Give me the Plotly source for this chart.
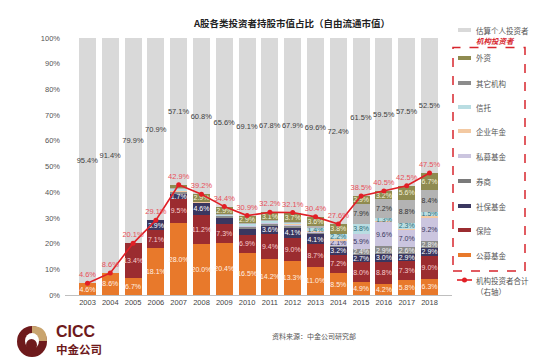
import plotly.graph_objects as go

years = ["2003", "2004", "2005", "2006", "2007", "2008", "2009", "2010",
         "2011", "2012", "2013", "2014", "2015", "2016", "2017", "2018"]

gongmu = [4.6, 8.6, 6.7, 18.1, 28.0, 20.0, 20.4, 16.5, 14.2, 13.3, 11.0, 8.5, 4.9, 4.2, 5.8, 6.3]
baoxian = [0, 0, 13.4, 7.1, 9.5, 11.2, 7.3, 6.9, 9.4, 9.0, 8.7, 7.2, 8.0, 8.8, 7.3, 9.0]
shebao = [0, 0, 0, 3.9, 1.7, 4.6, 2.5, 2.6, 3.6, 4.1, 4.1, 3.2, 2.7, 3.0, 2.9, 2.9]
quanshang = [0, 0, 0, 0, 1.0, 0.3, 0.6, 0.7, 0.6, 0.6, 0.5, 0.3, 2.4, 2.9, 2.6, 2.8]
simu = [0, 0, 0, 0, 0.2, 0.0, 0.1, 0.2, 0.3, 0.3, 0.3, 2.1, 5.9, 9.6, 7.0, 9.2]
nianjin = [0, 0, 0, 0, 0.3, 0.1, 0.2, 0.3, 0.3, 0.4, 0.3, 0.3, 0.0, 0.3, 0.2, 0.7]
xintuo = [0, 0, 0, 0, 0.6, 0.1, 0.2, 0.5, 0.4, 0.4, 1.4, 2.2, 3.8, 1.3, 2.3, 1.5]
qita = [0, 0, 0, 0, 0.4, 0.0, 0.2, 0.3, 0.3, 0.3, 0.5, 0.0, 7.9, 7.2, 8.8, 8.4]
waizi = [0, 0, 0, 0, 1.2, 2.9, 2.9, 2.9, 3.1, 3.7, 3.6, 3.8, 2.9, 3.2, 5.6, 6.7]

inst_names = ["公募基金", "保险", "社保基金", "券商", "私募基金", "企业年金", "信托", "其它机构", "外资"]
inst_values = [gongmu, baoxian, shebao, quanshang, simu, nianjin, xintuo, qita, waizi]
inst_colors = ["#E8792B", "#9B2C30", "#3A3760", "#8C8C8C", "#CBC5DF", "#F3C9A2", "#B9DDE2", "#B3B3B3", "#8F8B50"]
inst_text_colors = ["#FFF1E6", "#F7CFCF", "#FFFFFF", "#F2F2F2", "#3A3760", "#5A4030", "#2F6F7A", "#333333", "#F3F2DC"]
hidden_labels = {("社保基金", "2009"), ("社保基金", "2010")}

individual_name = "估算个人投资者"
total_name = "机构投资者合计"
total = [round(sum(v[i] for v in inst_values), 1) for i in range(len(years))]
individual = [round(100 - t, 1) for t in total]

NUM_FONT = "Liberation Sans, Arial, sans-serif"
CJK_FONT = "Noto Sans CJK SC, sans-serif"

fig = go.Figure()

for name, vals, col, tcol in zip(inst_names, inst_values, inst_colors, inst_text_colors):
    txt = ["" if (v < 1.3 or (name, y) in hidden_labels) else f"{v:.1f}%" for v, y in zip(vals, years)]
    fig.add_trace(go.Bar(
        x=years, y=vals, name=name, marker=dict(color=col, line=dict(width=0)),
        text=txt, textposition="inside", insidetextanchor="middle", textangle=0,
        constraintext="none", textfont=dict(family=NUM_FONT, size=7, color=tcol),
        showlegend=False, hoverinfo="skip"))

fig.add_trace(go.Bar(
    x=years, y=individual, name=individual_name, marker=dict(color="#D9D9D9", line=dict(width=0)),
    text=[f"{v:.1f}%" for v in individual], textposition="inside", insidetextanchor="middle",
    textangle=0, constraintext="none", textfont=dict(family=NUM_FONT, size=7.5, color="#404040"),
    showlegend=False, hoverinfo="skip"))

fig.add_trace(go.Scatter(
    x=years, y=total, name=total_name, mode="lines+markers+text",
    line=dict(color="#E11F26", width=1.6), marker=dict(color="#E11F26", size=5),
    text=[f"{v:.1f}%" for v in total], textposition="top center",
    textfont=dict(family=NUM_FONT, size=7.5, color="#E8505B"),
    cliponaxis=False, showlegend=False, hoverinfo="skip"))

L, R, T, B = 57, 444, 30, 287
W, H = R - L, B - T


def px(x):
    return (x - L) / W


def py(y):
    return (B - y) / H


shapes = []
annotations = []

# legend
legend_items = [(individual_name, "#D9D9D9", 22)] + [
    (n, c, yy) for n, c, yy in zip(
        ["外资", "其它机构", "信托", "企业年金", "私募基金", "券商", "社保基金", "保险", "公募基金"],
        ["#8F8B50", "#8C8C8C", "#B9DDE2", "#F3C9A2", "#CBC5DF", "#7A7A7A", "#3A3760", "#9B2C30", "#E8792B"],
        [50, 75, 99, 123, 148, 173, 198, 222, 247])]
for name, col, yy in legend_items:
    shapes.append(dict(type="rect", xref="paper", yref="paper",
                       x0=px(450), x1=px(463), y0=py(yy + 2), y1=py(yy - 2),
                       fillcolor=col, line=dict(width=0)))
    annotations.append(dict(xref="paper", yref="paper", x=px(466), y=py(yy), text=name,
                            showarrow=False, xanchor="left", yanchor="middle",
                            font=dict(family=CJK_FONT, size=7.5, color="#555555")))

annotations.append(dict(xref="paper", yref="paper", x=px(466), y=py(32.5), text="<b><i>机构投资者</i></b>",
                        showarrow=False, xanchor="left", yanchor="middle",
                        font=dict(family=CJK_FONT, size=7.5, color="#D7262E")))
shapes.append(dict(type="rect", xref="paper", yref="paper", x0=px(445), x1=px(517),
                   y0=py(263), y1=py(39.5), line=dict(color="#D7262E", width=1.5, dash="dash")))
shapes.append(dict(type="line", xref="paper", yref="paper", x0=px(449), x1=px(464),
                   y0=py(272), y1=py(272), line=dict(color="#E11F26", width=1.6)))
shapes.append(dict(type="circle", xref="paper", yref="paper", x0=px(454), x1=px(459),
                   y0=py(274.5), y1=py(269.5), fillcolor="#E11F26", line=dict(width=0)))
annotations.append(dict(xref="paper", yref="paper", x=px(466), y=py(272), text=total_name,
                        showarrow=False, xanchor="left", yanchor="middle",
                        font=dict(family=CJK_FONT, size=7.5, color="#555555")))
annotations.append(dict(xref="paper", yref="paper", x=px(466), y=py(283), text="（右轴）",
                        showarrow=False, xanchor="left", yanchor="middle",
                        font=dict(family=CJK_FONT, size=7.5, color="#555555")))

# title
annotations.append(dict(xref="paper", yref="paper", x=px(283), y=py(15),
                        text="<b>A股各类投资者持股市值占比（自由流通市值）</b>",
                        showarrow=False, xanchor="center", yanchor="middle",
                        font=dict(family=CJK_FONT, size=9.5, color="#222222")))
# source
annotations.append(dict(xref="paper", yref="paper", x=px(306), y=py(328),
                        text="资料来源：中金公司研究部", showarrow=False,
                        xanchor="center", yanchor="middle",
                        font=dict(family=CJK_FONT, size=7, color="#555555")))

# logo
shapes.append(dict(type="circle", xref="paper", yref="paper", x0=px(9), x1=px(39),
                   y0=py(349), y1=py(318), fillcolor="#6E1A1C", line=dict(width=0)))
shapes.append(dict(type="path", xref="paper", yref="paper",
                   path=f"M {px(24)},{py(333)} L {px(24)},{py(318)} Q {px(39)},{py(318)} {px(39)},{py(333)} Z",
                   fillcolor="#C9A46E", line=dict(width=0)))
shapes.append(dict(type="circle", xref="paper", yref="paper", x0=px(17), x1=px(31),
                   y0=py(341), y1=py(325), fillcolor="#FFFFFF", line=dict(width=0)))
shapes.append(dict(type="circle", xref="paper", yref="paper", x0=px(18), x1=px(29),
                   y0=py(343), y1=py(331), fillcolor="#6E1A1C", line=dict(width=0)))
annotations.append(dict(xref="paper", yref="paper", x=px(46), y=py(323), text="<b>CICC</b>",
                        showarrow=False, xanchor="left", yanchor="middle",
                        font=dict(family=NUM_FONT, size=16, color="#6E1A1C")))
annotations.append(dict(xref="paper", yref="paper", x=px(46), y=py(341), text="<b>中金公司</b>",
                        showarrow=False, xanchor="left", yanchor="middle",
                        font=dict(family=CJK_FONT, size=11.5, color="#6E1A1C")))

fig.update_layout(
    width=550, height=358, barmode="stack", bargap=0.25,
    margin=dict(l=L, r=550 - R, t=T, b=358 - B),
    paper_bgcolor="white", plot_bgcolor="white",
    showlegend=False, shapes=shapes, annotations=annotations,
    xaxis=dict(type="category", showgrid=False, ticks="", showline=True, linecolor="#BFBFBF",
               tickfont=dict(family=NUM_FONT, size=7.5, color="#444444")),
    yaxis=dict(range=[0, 100], dtick=10, ticksuffix="%", showgrid=False, zeroline=False,
               showline=False, ticks="", ticklabelstandoff=4,
               tickfont=dict(family=NUM_FONT, size=7.5, color="#555555")),
)

fig.write_html("out.html")
